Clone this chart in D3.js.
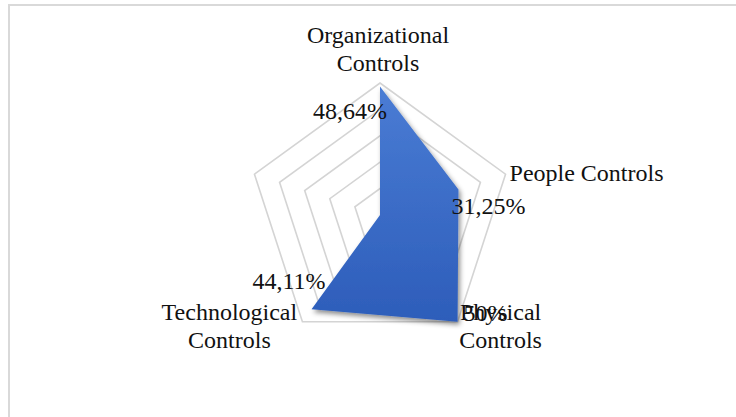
<!DOCTYPE html>
<html>
<head>
<meta charset="utf-8">
<script src="https://cdn.jsdelivr.net/npm/d3@7"></script>
<style>
  html, body { margin: 0; padding: 0; background: #fff; }
</style>
</head>
<body>
<div id="graph"></div>
<script>
// chart data
const categories = [["Organizational", "Controls"], ["People Controls"], ["Physical", "Controls"], ["Technological", "Controls"], [""]];
const values = [48.64, 31.25, 50, 44.11, 0];
const valueLabels = ["48,64%", "31,25%", "50%", "44,11%", ""];
const ringTicks = [10, 20, 30, 40, 50];

const width = 736, height = 417;
const center = {x: 380, y: 215};
const R = 132;
const fontSize = 24;
const serif = "Liberation Serif";

// label placement (layout only)
const catOffsets = [
  {dx: -2, dy: -40, anchor: "middle"},
  {dx: 4, dy: 7, anchor: "start"},
  {dx: 43, dy: -2, anchor: "middle"},
  {dx: -73, dy: -2, anchor: "middle"}
];
const valOffsets = [
  {dx: 7, dy: 32, anchor: "end"},
  {dx: -7, dy: 24, anchor: "start"},
  {dx: 6, dy: -1, anchor: "start"},
  {dx: 14, dy: -20, anchor: "end"}
];

const rScale = d3.scaleLinear().domain([0, 50]).range([0, R]);
const angle = d3.scaleLinear().domain([0, categories.length]).range([0, 2 * Math.PI]);

function pt(i, v) {
  const a = angle(i);
  return [center.x + rScale(v) * Math.sin(a), center.y - rScale(v) * Math.cos(a)];
}

const graph = d3.select("div#graph")
  .append("svg")
  .attr("width", width)
  .attr("height", height);

const defs = graph.append("defs");
const grad = defs.append("linearGradient")
  .attr("id", "fillGrad")
  .attr("x1", 0).attr("y1", 0).attr("x2", 0).attr("y2", 1);
grad.append("stop").attr("offset", "0%").attr("stop-color", "#4a7cd4");
grad.append("stop").attr("offset", "100%").attr("stop-color", "#2d5dba");

const shadow = defs.append("filter").attr("id", "shadow")
  .attr("x", "-20%").attr("y", "-20%").attr("width", "140%").attr("height", "140%");
shadow.append("feDropShadow")
  .attr("dx", 2).attr("dy", 3).attr("stdDeviation", 2.5)
  .attr("flood-color", "#000").attr("flood-opacity", 0.45);

// frame
graph.append("rect")
  .attr("x", 9).attr("y", 5)
  .attr("width", 760).attr("height", 440)
  .attr("fill", "none")
  .attr("stroke", "#d9d9d9")
  .attr("stroke-width", 2);

// grid rings
const ring = d3.line().curve(d3.curveLinearClosed);
graph.append("g").attr("class", "grid")
  .selectAll("path")
  .data(ringTicks)
  .join("path")
  .attr("d", t => ring(categories.map((c, i) => pt(i, t))))
  .attr("fill", "none")
  .attr("stroke", "#d4d4d4")
  .attr("stroke-width", 1.6);

// data area
graph.append("path")
  .datum(values)
  .attr("d", ring(values.map((v, i) => pt(i, v))))
  .attr("fill", "url(#fillGrad)")
  .attr("filter", "url(#shadow)");

// category labels
const cat = graph.append("g").attr("class", "categories");
categories.forEach((lines, i) => {
  if (!catOffsets[i]) return;
  const p = pt(i, 50), o = catOffsets[i];
  const t = cat.append("text")
    .attr("x", p[0] + o.dx)
    .attr("y", p[1] + o.dy)
    .attr("text-anchor", o.anchor)
    .style("font-family", serif)
    .attr("font-size", fontSize)
    .attr("fill", "#111");
  lines.forEach((l, k) => {
    t.append("tspan")
      .attr("x", p[0] + o.dx)
      .attr("dy", k === 0 ? 0 : 28)
      .text(l);
  });
});

// value labels
graph.append("g").attr("class", "values")
  .selectAll("text")
  .data(values.slice(0, 4))
  .join("text")
  .attr("x", (d, i) => pt(i, d)[0] + valOffsets[i].dx)
  .attr("y", (d, i) => pt(i, d)[1] + valOffsets[i].dy)
  .attr("text-anchor", (d, i) => valOffsets[i].anchor)
  .style("font-family", serif)
  .attr("font-size", fontSize)
  .attr("fill", "#111")
  .text((d, i) => valueLabels[i]);
</script>
</body>
</html>
